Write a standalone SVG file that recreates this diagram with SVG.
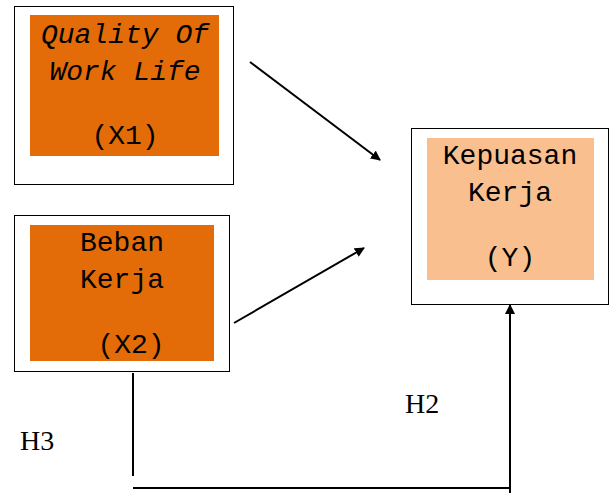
<svg xmlns="http://www.w3.org/2000/svg" width="611" height="493" viewBox="0 0 611 493">
<style>
.frame{fill:#fff;stroke:#000;stroke-width:1}
.t{font-family:"Liberation Mono","Courier New",monospace;font-size:28px;fill:#000;text-anchor:middle}
.h{font-family:"Liberation Serif","Times New Roman",serif;font-size:28px;fill:#000}
.ln{stroke:#000;stroke-width:2;fill:none}
</style>
<defs>
<marker id="ah" markerWidth="10" markerHeight="10" refX="9" refY="5" orient="auto" markerUnits="userSpaceOnUse" viewBox="0 0 10 10">
<path d="M0,0 L10,5 L0,10 z" fill="#000"/>
</marker>
</defs>
<rect width="611" height="493" fill="#fff"/>
<g id="x1">
<rect class="frame" x="14.5" y="6.5" width="219" height="178"/>
<rect x="30" y="15" width="189" height="141" fill="#E36C09"/>
<text class="t" x="125" y="43" font-style="italic">Quality Of</text>
<text class="t" x="125" y="80" font-style="italic">Work Life</text>
<text class="t" x="125" y="144">(X1)</text>
</g>
<g id="x2">
<rect class="frame" x="14.5" y="215.5" width="215" height="156"/>
<rect x="30" y="225" width="184" height="136" fill="#E36C09"/>
<text class="t" x="122" y="251">Beban</text>
<text class="t" x="122" y="288">Kerja</text>
<text class="t" x="131" y="353">(X2)</text>
</g>
<g id="y">
<rect class="frame" x="411.5" y="128.5" width="197" height="176"/>
<rect x="427" y="138" width="167" height="142" fill="#FABF8F"/>
<text class="t" x="510" y="164">Kepuasan</text>
<text class="t" x="510" y="201">Kerja</text>
<text class="t" x="510" y="266">(Y)</text>
</g>
<g id="connectors">
<line class="ln" x1="250" y1="62" x2="380" y2="160" marker-end="url(#ah)"/>
<line class="ln" x1="234" y1="323" x2="364" y2="248" marker-end="url(#ah)"/>
<line class="ln" x1="133" y1="373" x2="133" y2="476"/>
<line class="ln" x1="133" y1="488" x2="511" y2="488"/>
<line class="ln" x1="510" y1="493" x2="510" y2="305" marker-end="url(#ah)"/>
</g>
<text class="h" x="405" y="413">H2</text>
<text class="h" x="20" y="450">H3</text>
</svg>
